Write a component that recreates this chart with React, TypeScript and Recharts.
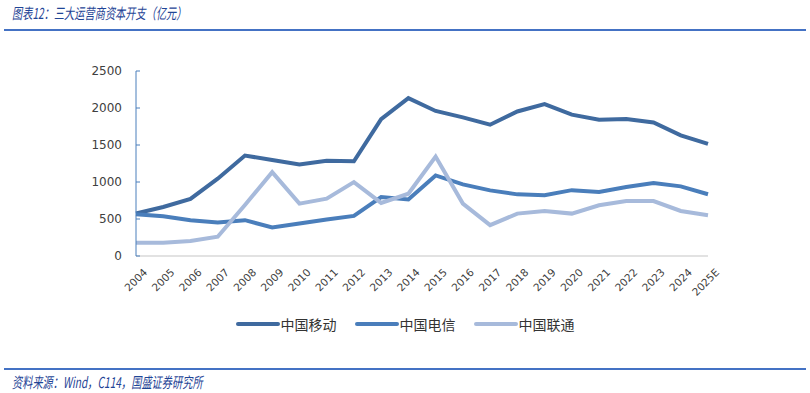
import { LineChart, Line, XAxis, YAxis, Legend } from 'recharts';

const years = ['2004', '2005', '2006', '2007', '2008', '2009', '2010', '2011', '2012', '2013', '2014', '2015', '2016', '2017', '2018', '2019', '2020', '2021', '2022', '2023', '2024', '2025E'];
const chinaMobile = [575, 662, 772, 1045, 1357, 1298, 1236, 1288, 1280, 1850, 2133, 1960, 1873, 1774, 1953, 2052, 1910, 1841, 1850, 1805, 1630, 1514];
const chinaTelecom = [565, 537, 484, 454, 484, 385, 438, 492, 542, 797, 764, 1089, 968, 887, 833, 820, 890, 865, 932, 985, 941, 835];
const chinaUnicom = [179, 179, 202, 260, 690, 1133, 708, 775, 999, 717, 842, 1344, 708, 417, 573, 609, 573, 685, 743, 743, 609, 551];
const yTicks = [0, 500, 1000, 1500, 2000, 2500];

const seriesNames = ['中国移动', '中国电信', '中国联通'];
const seriesColors = ['#3F6A9F', '#4A7EBB', '#A7BADB'];

const data = years.map((year, i) => ({
  year,
  [seriesNames[0]]: chinaMobile[i],
  [seriesNames[1]]: chinaTelecom[i],
  [seriesNames[2]]: chinaUnicom[i],
}));

const XTick = ({ x, y, payload }: any) => {
  const tx = x + 12;
  const ty = y + 17;
  return (
    <text
      x={tx}
      y={ty}
      textAnchor="end"
      transform={`rotate(-45, ${tx}, ${ty})`}
      fontSize={10.5}
      fontFamily="DejaVu Sans"
      fill="#404040"
    >
      {payload.value}
    </text>
  );
};

// keep legend in series order (recharts 3 sorts by value otherwise)
const LegendContent = ({ payload }: any) => {
  const items = [...(payload || [])].sort(
    (a: any, b: any) => seriesNames.indexOf(a.value) - seriesNames.indexOf(b.value)
  );
  return (
    <div style={{ display: 'flex', justifyContent: 'center', alignItems: 'center', height: 20 }}>
      {items.map((entry: any) => (
        <div key={entry.value} style={{ display: 'flex', alignItems: 'center', margin: '0 9px' }}>
          <svg width={44} height={8}>
            <line x1={2} y1={4} x2={42} y2={4} stroke={entry.color} strokeWidth={4} strokeLinecap="round" />
          </svg>
          <span style={{ fontFamily: '"Noto Sans CJK SC"', fontSize: 14, color: '#333', marginLeft: 1 }}>{entry.value}</span>
        </div>
      ))}
    </div>
  );
};

export default function App() {
  return (
    <div style={{ position: 'absolute', left: 0, top: 0, width: 810, height: 393, background: '#fff', overflow: 'hidden' }}>
      <div
        style={{
          position: 'absolute',
          left: 12,
          top: 2,
          fontFamily: '"Noto Sans CJK SC"',
          fontStyle: 'italic',
          fontSize: 15,
          color: '#1F4596',
          whiteSpace: 'nowrap',
          transform: 'scaleX(0.68)',
          transformOrigin: 'left',
        }}
      >
        图表12：三大运营商资本开支（亿元）
      </div>
      <div style={{ position: 'absolute', left: 4, top: 29, width: 802, height: 2, background: '#4472C4' }} />

      <div style={{ position: 'absolute', left: 0, top: 0 }}>
        <LineChart width={810} height={340} data={data} margin={{ top: 71, right: 102, left: 76, bottom: 6 }}>
          <XAxis
            dataKey="year"
            interval={0}
            height={58}
            tick={<XTick />}
            tickLine={false}
            tickSize={0}
            tickMargin={0}
            axisLine={{ stroke: '#D9D9D9', strokeWidth: 1.5 }}
          />
          <YAxis
            domain={[0, 2500]}
            ticks={yTicks}
            width={60}
            tickSize={-4}
            tickMargin={18}
            tickLine={{ stroke: '#4A7EBB' }}
            axisLine={{ stroke: '#4A7EBB' }}
            tick={{ fontSize: 12, fontFamily: 'DejaVu Sans', fill: '#404040' }}
          />
          <Legend
            verticalAlign="bottom"
            height={20}
            content={<LegendContent />}
            wrapperStyle={{ left: 0, width: 810 }}
          />
          {seriesNames.map((name, i) => (
            <Line
              key={name}
              type="linear"
              dataKey={name}
              stroke={seriesColors[i]}
              strokeWidth={4}
              dot={false}
              isAnimationActive={false}
            />
          ))}
        </LineChart>
      </div>

      <div style={{ position: 'absolute', left: 4, top: 368, width: 802, height: 2, background: '#4472C4' }} />
      <div
        style={{
          position: 'absolute',
          left: 12,
          top: 371,
          fontFamily: '"Noto Sans CJK SC"',
          fontStyle: 'italic',
          fontSize: 15,
          color: '#1F4596',
          whiteSpace: 'nowrap',
          transform: 'scaleX(0.68)',
          transformOrigin: 'left',
        }}
      >
        资料来源：Wind，C114，国盛证券研究所
      </div>
    </div>
  );
}
